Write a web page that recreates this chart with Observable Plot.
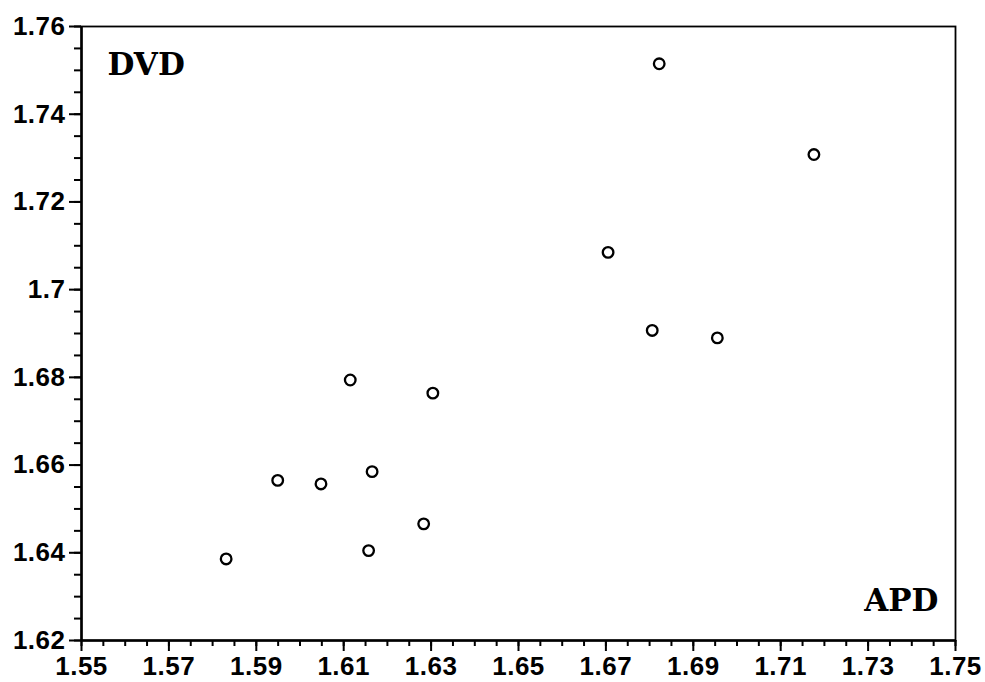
<!DOCTYPE html>
<html>
<head>
<meta charset="utf-8">
<script src="https://cdn.jsdelivr.net/npm/d3@7"></script>
<script src="https://cdn.jsdelivr.net/npm/@observablehq/plot@0.6"></script>
<style>
  html, body { margin: 0; padding: 0; background: #fff; }
  #chart svg { display: block; }
  #chart svg g[aria-label="x-axis tick label"] text,
  #chart svg g[aria-label="y-axis tick label"] text { letter-spacing: 0.5px; }
</style>
</head>
<body>
<div id="chart"></div>
<script>
// Data
const apd = [1.6822, 1.7176, 1.6705, 1.6806, 1.6955, 1.6115, 1.6304, 1.5949, 1.6048, 1.6165, 1.6283, 1.6157, 1.5831];
const dvd = [1.7515, 1.7308, 1.7085, 1.6907, 1.6890, 1.6794, 1.6764, 1.6565, 1.6557, 1.6585, 1.6466, 1.6405, 1.6386];

const xTicks = [1.55, 1.57, 1.59, 1.61, 1.63, 1.65, 1.67, 1.69, 1.71, 1.73, 1.75];
const xTickLabels = ["1.55", "1.57", "1.59", "1.61", "1.63", "1.65", "1.67", "1.69", "1.71", "1.73", "1.75"];
const yTicks = [1.62, 1.64, 1.66, 1.68, 1.70, 1.72, 1.74, 1.76];
const yTickLabels = ["1.62", "1.64", "1.66", "1.68", "1.7", "1.72", "1.74", "1.76"];

const xLabel = "APD";
const yLabel = "DVD";

const points = apd.map((x, i) => ({x, y: dvd[i]}));
const xMinor = d3.range(310, 351).map(i => i / 200);
const yMinor = d3.range(324, 353).map(i => i / 200);

const font = "'Liberation Sans', Arial, Helvetica, sans-serif";
const serif = "'DejaVu Serif', 'Liberation Serif', serif";

const chart = Plot.plot({
  width: 985,
  height: 682,
  marginLeft: 81,
  marginRight: 30,
  marginTop: 26,
  marginBottom: 42,
  style: {background: "#fff", color: "#000", fontFamily: font},
  x: {domain: [1.55, 1.75]},
  y: {domain: [1.62, 1.76]},
  marks: [
    Plot.frame({stroke: "#000", strokeWidth: 1.8}),
    Plot.axisX({ticks: xMinor, tickSize: 6, text: null, label: null, strokeWidth: 2}),
    Plot.axisY({ticks: yMinor, tickSize: 7, text: null, label: null, strokeWidth: 2}),
    Plot.axisX({
      ticks: xTicks, tickSize: 11, tickPadding: 5, label: null, strokeWidth: 2,
      tickFormat: d => xTickLabels[xTicks.findIndex(t => Math.abs(t - d) < 1e-9)],
      fontSize: 26, fontWeight: "bold", fontFamily: font
    }),
    Plot.axisY({
      ticks: yTicks, tickSize: 12, tickPadding: 4, label: null, strokeWidth: 2,
      tickFormat: d => yTickLabels[yTicks.findIndex(t => Math.abs(t - d) < 1e-9)],
      fontSize: 26, fontWeight: "bold", fontFamily: font
    }),
    Plot.ruleX([1.55], {stroke: "#000", strokeWidth: 2.5}),
    Plot.ruleY([1.62], {stroke: "#000", strokeWidth: 2.5}),
    Plot.dot(points, {x: "x", y: "y", r: 5.3, stroke: "#000", strokeWidth: 2.3, fill: "#fff"}),
    Plot.text([yLabel], {
      frameAnchor: "top-left", dx: 26, dy: 26, text: d => d,
      fontSize: 31, fontWeight: "bold", fontFamily: serif, textAnchor: "start", lineAnchor: "top", fill: "#000"
    }),
    Plot.text([xLabel], {
      frameAnchor: "bottom-right", dx: -17, dy: -30, text: d => d,
      fontSize: 31, fontWeight: "bold", fontFamily: serif, textAnchor: "end", lineAnchor: "bottom", fill: "#000"
    })
  ]
});

document.getElementById("chart").appendChild(chart);
</script>
</body>
</html>
